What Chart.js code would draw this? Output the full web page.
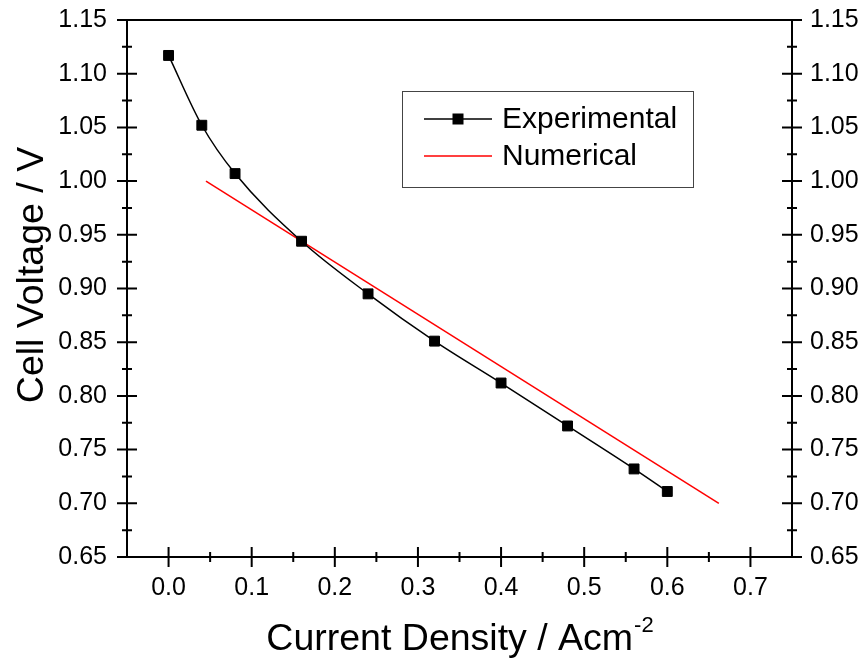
<!DOCTYPE html>
<html><head><meta charset="utf-8">
<script src="https://cdn.jsdelivr.net/npm/chart.js@4/dist/chart.umd.min.js"></script>
<style>html,body{margin:0;padding:0;background:#fff}#wrap{width:866px;height:660px}</style>
</head><body><div id="wrap"><canvas id="c" width="866" height="660"></canvas></div>
<script>
const currentDensity = [0, 0.04, 0.08, 0.16, 0.24, 0.32, 0.40, 0.48, 0.56, 0.60];
const cellVoltage = [1.117, 1.052, 1.007, 0.944, 0.895, 0.851, 0.812, 0.772, 0.732, 0.711];
const numericalDensity = [0.045, 0.662];
const numericalVoltage = [1.000, 0.700];
const xTickValues = [0, 0.1, 0.2, 0.3, 0.4, 0.5, 0.6, 0.7];
const yTickValues = [0.65, 0.70, 0.75, 0.80, 0.85, 0.90, 0.95, 1.00, 1.05, 1.10, 1.15];
const seriesNames = ['Experimental', 'Numerical'];
const xTitleMain = 'Current Density / Acm';
const xTitleSup = '-2';
const yTitle = 'Cell Voltage / V';

const FAM = '"Liberation Sans", Arial, sans-serif';
Chart.defaults.font.family = FAM;
Chart.defaults.color = '#000';

const toXY = (xs, ys) => xs.map((x, i) => ({x: x, y: ys[i]}));

const framePlugin = {
  id: 'frame',
  afterDraw(chart) {
    const ctx = chart.ctx;
    const a = chart.chartArea;
    const xs = chart.scales.x, ys = chart.scales.y;
    ctx.save();
    ctx.strokeStyle = '#000';
    ctx.lineWidth = 2;
    ctx.lineCap = 'butt';
    ctx.beginPath();
    ctx.rect(a.left, a.top, a.right - a.left, a.bottom - a.top);
    ctx.stroke();
    ctx.beginPath();
    for (let i = 0; i < yTickValues.length; i++) {
      const py = ys.getPixelForValue(yTickValues[i]);
      [a.left, a.right].forEach(px => { ctx.moveTo(px - 10, py); ctx.lineTo(px + 10, py); });
      if (i < yTickValues.length - 1) {
        const my = ys.getPixelForValue((yTickValues[i] + yTickValues[i + 1]) / 2);
        [a.left, a.right].forEach(px => { ctx.moveTo(px - 5, my); ctx.lineTo(px + 5, my); });
      }
    }
    for (let i = 0; i < xTickValues.length; i++) {
      const px = xs.getPixelForValue(xTickValues[i]);
      ctx.moveTo(px, a.bottom - 10); ctx.lineTo(px, a.bottom + 10);
      const mx = xs.getPixelForValue(xTickValues[i] + 0.05);
      if (mx < a.right - 1) { ctx.moveTo(mx, a.bottom - 5); ctx.lineTo(mx, a.bottom + 5); }
    }
    ctx.stroke();

    // x title with superscript
    ctx.fillStyle = '#000';
    ctx.textBaseline = 'alphabetic';
    ctx.textAlign = 'left';
    ctx.font = '37.5px ' + FAM;
    const w1 = ctx.measureText(xTitleMain).width;
    ctx.font = '22px ' + FAM;
    const w2 = ctx.measureText(xTitleSup).width;
    const cx = (a.left + a.right) / 2;
    const sx = cx - (w1 + w2) / 2;
    ctx.font = '37.5px ' + FAM;
    ctx.fillText(xTitleMain, sx, 650);
    ctx.font = '22px ' + FAM;
    ctx.fillText(xTitleSup, sx + w1 + 1, 632);

    // y title
    ctx.save();
    ctx.translate(43, 275);
    ctx.rotate(-Math.PI / 2);
    ctx.font = '37.5px ' + FAM;
    ctx.textAlign = 'center';
    ctx.textBaseline = 'alphabetic';
    ctx.fillText(yTitle, 0, 0);
    ctx.restore();

    // legend
    const L = {x0: 402, y0: 91, x1: 693, y1: 187};
    ctx.strokeStyle = '#444';
    ctx.lineWidth = 1;
    ctx.strokeRect(L.x0 + 0.5, L.y0 + 0.5, L.x1 - L.x0, L.y1 - L.y0);
    const rows = [119, 156];
    chart.data.datasets.forEach((ds, i) => {
      const y = rows[i];
      ctx.strokeStyle = ds.borderColor;
      ctx.lineWidth = ds.borderWidth;
      ctx.beginPath(); ctx.moveTo(424, y); ctx.lineTo(492, y); ctx.stroke();
      if (ds.pointRadius > 0) {
        ctx.fillStyle = ds.pointBackgroundColor;
        ctx.fillRect(458 - 5.5, y - 5.5, 11, 11);
      }
      ctx.fillStyle = '#000';
      ctx.font = '30px ' + FAM;
      ctx.textAlign = 'left';
      ctx.textBaseline = 'middle';
      ctx.fillText(ds.label, 502, y + 1);
    });
    ctx.restore();
  }
};

const tickFont = {size: 25, family: FAM};
const noPad = s => { s.paddingTop = 0; s.paddingBottom = 0; s.paddingLeft = 0; s.paddingRight = 0; };

new Chart(document.getElementById('c'), {
  type: 'scatter',
  data: {
    datasets: [
      {
        label: seriesNames[0],
        data: toXY(currentDensity, cellVoltage),
        showLine: true,
        borderColor: '#000',
        borderWidth: 1.5,
        cubicInterpolationMode: 'monotone',
        pointStyle: 'rect',
        pointRadius: 7,
        pointBackgroundColor: '#000',
        pointBorderColor: '#000',
        pointBorderWidth: 1,
        order: 1
      },
      {
        label: seriesNames[1],
        data: toXY(numericalDensity, numericalVoltage),
        showLine: true,
        borderColor: '#ff0000',
        borderWidth: 1.5,
        pointRadius: 0,
        pointBackgroundColor: '#ff0000',
        order: 2
      }
    ]
  },
  options: {
    responsive: false,
    animation: false,
    devicePixelRatio: 1,
    layout: {padding: {top: 20, left: 0, right: 0, bottom: 0}},
    plugins: {legend: {display: false}, tooltip: {enabled: false}},
    scales: {
      x: {
        type: 'linear', position: 'bottom', min: -0.05, max: 0.75,
        afterBuildTicks: s => { s.ticks = xTickValues.map(v => ({value: v})); },
        afterFit: s => { s.height = 103; noPad(s); },
        ticks: {font: tickFont, color: '#000', padding: 16, maxRotation: 0, autoSkip: false,
                callback: v => Number(v).toFixed(1)},
        grid: {display: false, drawTicks: false},
        border: {display: false}
      },
      y: {
        type: 'linear', position: 'left', min: 0.65, max: 1.15,
        afterBuildTicks: s => { s.ticks = yTickValues.map(v => ({value: v})); },
        afterFit: s => { s.width = 127; noPad(s); },
        ticks: {font: tickFont, color: '#000', padding: 20, autoSkip: false,
                callback: v => Number(v).toFixed(2)},
        grid: {display: false, drawTicks: false},
        border: {display: false}
      },
      y2: {
        type: 'linear', position: 'right', min: 0.65, max: 1.15,
        afterBuildTicks: s => { s.ticks = yTickValues.map(v => ({value: v})); },
        afterFit: s => { s.width = 74; noPad(s); },
        ticks: {font: tickFont, color: '#000', padding: 18, autoSkip: false,
                callback: v => Number(v).toFixed(2)},
        grid: {display: false, drawTicks: false},
        border: {display: false}
      }
    }
  },
  plugins: [framePlugin]
});
</script>
</body></html>
